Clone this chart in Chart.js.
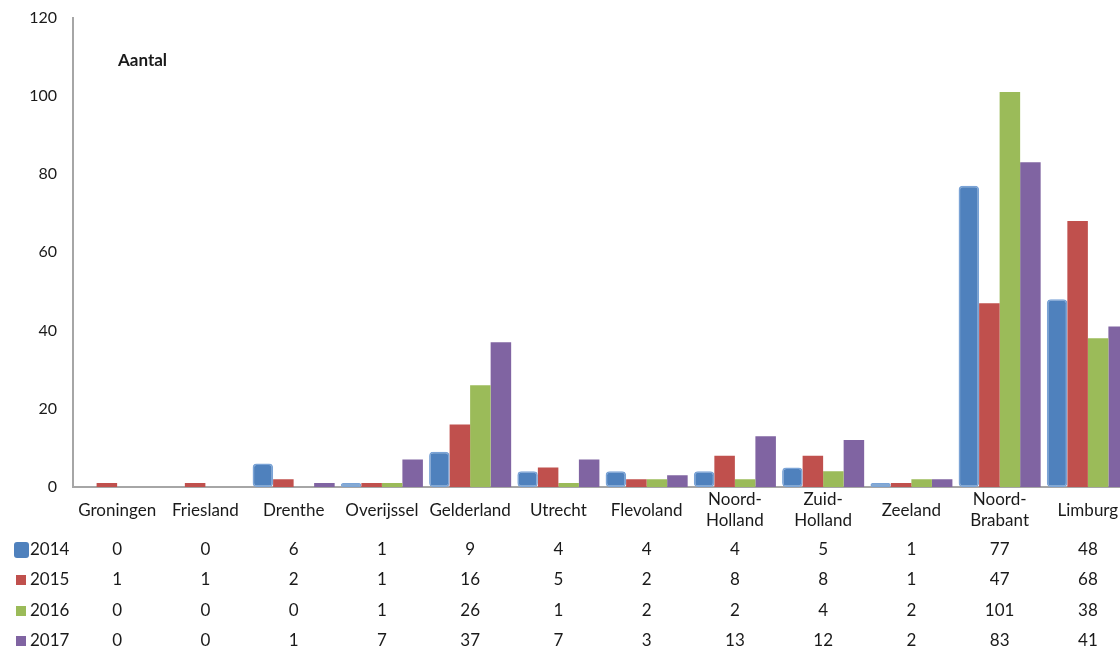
<!DOCTYPE html>
<html>
<head>
<meta charset="utf-8">
<script src="https://cdn.jsdelivr.net/npm/chart.js@4"></script>
<style>
  html, body { margin: 0; padding: 0; background: #fff; overflow: hidden; }
  canvas { display: block; }
</style>
</head>
<body>
<canvas id="chart" width="1132" height="649"></canvas>
<script>
"use strict";

const categories = ["Groningen", "Friesland", "Drenthe", "Overijssel", "Gelderland", "Utrecht",
  "Flevoland", ["Noord-", "Holland"], ["Zuid-", "Holland"], "Zeeland", ["Noord-", "Brabant"], "Limburg"];
const years = ["2014", "2015", "2016", "2017"];
const v2014 = [0, 0, 6, 1, 9, 4, 4, 4, 5, 1, 77, 48];
const v2015 = [1, 1, 2, 1, 16, 5, 2, 8, 8, 1, 47, 68];
const v2016 = [0, 0, 0, 1, 26, 1, 2, 2, 4, 2, 101, 38];
const v2017 = [0, 0, 1, 7, 37, 7, 3, 13, 12, 2, 83, 41];
const yTicks = [0, 20, 40, 60, 80, 100, 120];

const COLORS = ["#4f81bd", "#c0504d", "#9bbb59", "#8064a2"];
const FONT = "Lato, 'Open Sans', sans-serif";
const TEXT = "#1a1a1a";

const series = [v2014, v2015, v2016, v2017];

// category labels (vertically centred, also for two-line ones) + data table underneath
const tablePlugin = {
  id: "table",
  afterDraw(chart) {
    const { ctx, scales: { x } } = chart;
    ctx.save();
    ctx.fillStyle = TEXT;
    ctx.textAlign = "center";
    ctx.textBaseline = "middle";
    ctx.font = "17px " + FONT;
    categories.forEach((c, i) => {
      const px = x.getPixelForValue(i);
      if (Array.isArray(c)) { ctx.fillText(c[0], px, 500); ctx.fillText(c[1], px, 521); }
      else ctx.fillText(c, px, 511);
    });

    const rowY = [550, 580, 611, 641];
    series.forEach((vals, r) => {
      const y = rowY[r];
      ctx.textAlign = "center";
      ctx.fillStyle = TEXT;
      vals.forEach((v, i) => ctx.fillText(String(v), x.getPixelForValue(i), y));
      // legend key
      ctx.fillStyle = COLORS[r];
      if (r === 0) {
        ctx.beginPath(); ctx.roundRect(14, y - 8, 15, 16, 3); ctx.fill();
      } else {
        ctx.fillRect(16, y - 5, 10, 10);
      }
      ctx.fillStyle = TEXT;
      ctx.textAlign = "left";
      ctx.fillText(years[r], 30, y);
    });

    ctx.font = "bold 17px " + FONT;
    ctx.textAlign = "left";
    ctx.fillText("Aantal", 118, 61);
    ctx.restore();
  },
};

new Chart(document.getElementById("chart"), {
  type: "bar",
  data: {
    labels: categories.map((c) => Array.isArray(c) ? c.join(" ") : c),
    datasets: years.map((y, i) => ({
      label: y,
      data: series[i],
      backgroundColor: COLORS[i],
      borderColor: i === 0 ? "#7aa3d6" : COLORS[i],
      borderWidth: i === 0 ? 1.5 : 0,
      borderRadius: i === 0 ? 4 : 0,
      borderSkipped: i === 0 ? false : "start",
      categoryPercentage: 0.93,
      barPercentage: 1.0,
    })),
  },
  options: {
    responsive: false,
    animation: false,
    layout: { padding: { top: 10, right: 0, left: 0, bottom: 0 } },
    plugins: { legend: { display: false }, tooltip: { enabled: false } },
    scales: {
      x: {
        grid: { display: false },
        border: { color: "#a6a6a6", width: 2 },
        ticks: { display: false },
        afterFit: (s) => { s.height = 162; },
      },
      y: {
        min: 0, max: 120,
        afterBuildTicks: (s) => { s.ticks = yTicks.map((v) => ({ value: v })); },
        grid: { display: false },
        border: { color: "#a6a6a6", width: 2 },
        ticks: { color: TEXT, font: { family: FONT, size: 16 }, padding: 8 },
        afterFit: (s) => { s.width = 73; },
      },
    },
  },
  plugins: [tablePlugin],
});
</script>
</body>
</html>
